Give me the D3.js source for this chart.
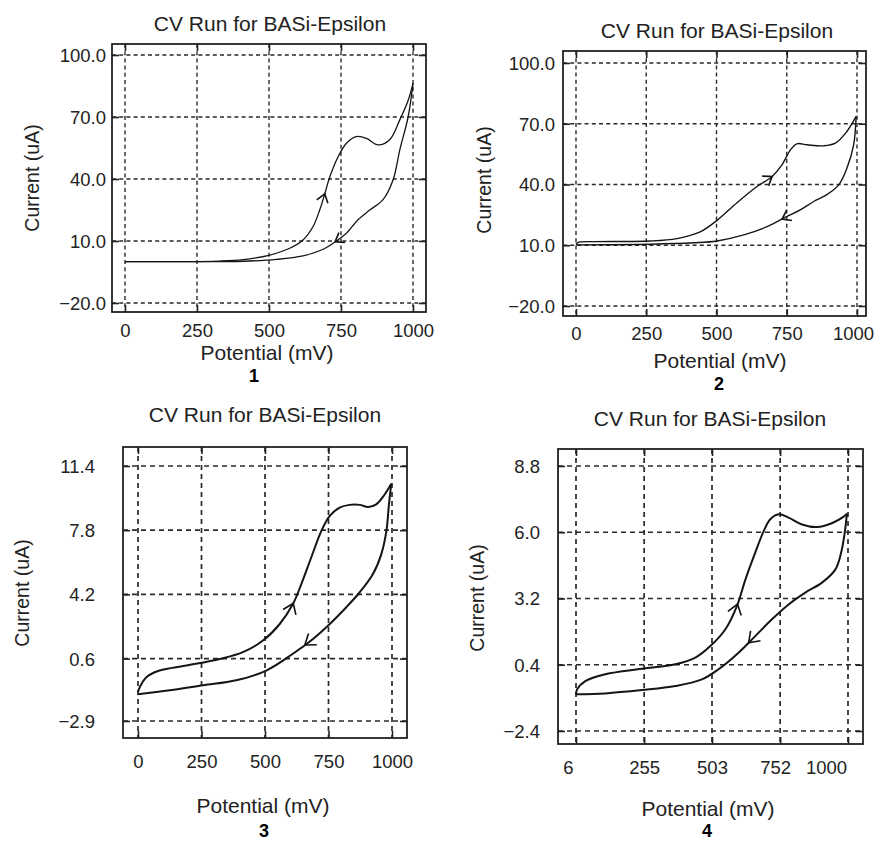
<!DOCTYPE html>
<html>
<head>
<meta charset="utf-8">
<script src="https://cdn.jsdelivr.net/npm/d3@7"></script>
<style>
  html, body { margin: 0; padding: 0; background: #fff; }
  text { font-family: "Liberation Sans", Arial, Helvetica, sans-serif; fill: #222; }
</style>
</head>
<body>
<svg id="chart" width="878" height="842"></svg>
<script>
// ---------------- DATA ----------------
const chartTitle = "CV Run for BASi-Epsilon";
const xAxisTitle = "Potential (mV)";
const yAxisTitle = "Current (uA)";
const panelNumbers = ["1", "2", "3", "4"];

// Panel 1
const p1XTicks = [0, 250, 500, 750, 1000];
const p1YTicks = [-20, 10, 40, 70, 100];
const p1FwdX = [0, 150, 330, 410, 503, 572, 618, 653, 676, 694, 711, 740, 769, 803, 838, 879, 919, 954, 983, 1000];
const p1FwdY = [0, 0, 0.3, 1, 3.2, 6.5, 10.5, 17, 25, 33, 41, 50.8, 57.3, 60.5, 59.7, 56.5, 59, 68.6, 78, 86.3];
const p1RevX = [1000, 983, 954, 931, 896, 850, 809, 769, 734, 688, 618, 526, 410, 250, 0];
const p1RevY = [86.3, 70, 54, 39.6, 30, 25, 20.3, 13.8, 10, 6, 2.8, 1.1, 0.2, 0, 0];
const p1Arrows = [[690, 33], [732, 9]];

// Panel 2
const p2XTicks = [0, 250, 500, 750, 1000];
const p2YTicks = [-20, 10, 40, 70, 100];
const p2FwdX = [0, 10, 63, 265, 359, 442, 502, 573, 644, 698, 733, 763, 786, 822, 881, 923, 964, 997];
const p2FwdY = [10.5, 11.5, 11.8, 12.1, 13.3, 16.6, 22.3, 31, 39, 44, 49.7, 57.1, 60.1, 59.6, 59.1, 60.4, 66.2, 73.6];
const p2RevX = [997, 988, 964, 935, 893, 846, 798, 751, 680, 597, 502, 419, 265, 0];
const p2RevY = [73.6, 59.6, 48, 39.8, 35, 31.6, 27.5, 24.2, 19.2, 15.1, 12.1, 11.2, 10.5, 10.2];
const p2Arrows = [[698, 44], [733, 23]];

// Panel 3
const p3XTicks = [0, 250, 500, 750, 1000];
const p3YTicks = [-2.9, 0.6, 4.2, 7.8, 11.4];
const p3FwdX = [0, 7, 33, 85, 190, 322, 413, 492, 558, 610, 643, 682, 722, 755, 794, 833, 873, 906, 938, 971, 997];
const p3FwdY = [-1.28, -1.0, -0.44, -0.07, 0.21, 0.58, 0.96, 1.61, 2.54, 3.66, 4.78, 6.27, 7.76, 8.6, 9.07, 9.22, 9.22, 9.1, 9.25, 9.8, 10.4];
const p3RevX = [997, 988, 978, 958, 925, 873, 820, 755, 689, 610, 505, 387, 256, 125, 0];
const p3RevY = [10.4, 9.25, 7.76, 6.46, 5.34, 4.32, 3.48, 2.54, 1.7, 0.87, -0.07, -0.62, -0.9, -1.18, -1.4];
const p3Arrows = [[612, 3.7], [660, 1.3]];

// Panel 4
const p4XTicks = [6, 255, 503, 752, 1000];
const p4YTicks = [-2.4, 0.4, 3.2, 6.0, 8.8];
const p4FwdX = [6, 10, 40, 113, 247, 369, 442, 497, 552, 594, 625, 661, 692, 716, 747, 783, 832, 887, 941, 984, 996];
const p4FwdY = [-0.85, -0.64, -0.29, 0.0, 0.23, 0.42, 0.7, 1.19, 1.9, 2.88, 4.0, 5.14, 6.05, 6.55, 6.76, 6.62, 6.33, 6.22, 6.38, 6.66, 6.79];
const p4RevX = [996, 988, 975, 954, 905, 844, 783, 722, 661, 600, 527, 466, 369, 247, 113, 6];
const p4RevY = [6.79, 5.98, 5.14, 4.43, 3.87, 3.45, 2.95, 2.32, 1.61, 0.91, 0.21, -0.22, -0.5, -0.67, -0.81, -0.85];
const p4Arrows = [[600, 2.95], [637, 1.33]];

// ---------------- LAYOUT ----------------
const panels = [
  { num: panelNumbers[0], xTicks: p1XTicks, yTicks: p1YTicks, fx: p1FwdX, fy: p1FwdY, rx: p1RevX, ry: p1RevY, arrows: p1Arrows,
    frame: [112, 44, 426, 312], grid: [125, 413, 303, 55], lineW: 1.3, gridW: 1.4, dash: "4,3.2", arrowLen: 10,
    titleXY: [270, 31], xtY: 19, ytPad: 6, xTitleXY: [267, 360], numXY: [254, 382], yTitleXY: [32, 178], xLabelDx: [0, 0, 0, 0, 0] },
  { num: panelNumbers[1], xTicks: p2XTicks, yTicks: p2YTicks, fx: p2FwdX, fy: p2FwdY, rx: p2RevX, ry: p2RevY, arrows: p2Arrows,
    frame: [563, 51, 866, 316], grid: [576, 857, 306, 63], lineW: 1.4, gridW: 1.4, dash: "4,3.2", arrowLen: 10,
    titleXY: [717, 38], xtY: 18, ytPad: 8, xTitleXY: [720, 368], numXY: [719, 390], yTitleXY: [484, 180], xLabelDx: [0, 0, 0, 0, -4] },
  { num: panelNumbers[2], xTicks: p3XTicks, yTicks: p3YTicks, fx: p3FwdX, fy: p3FwdY, rx: p3RevX, ry: p3RevY, arrows: p3Arrows,
    frame: [123, 447, 407, 738], grid: [138, 392, 721, 466], lineW: 2, gridW: 1.7, dash: "5,4", arrowLen: 12,
    titleXY: [265, 422], xtY: 24, ytPad: 28, xTitleXY: [263, 813], numXY: [264, 837], yTitleXY: [22, 593], xLabelDx: [0, 0, 0, 0, 0] },
  { num: panelNumbers[3], xTicks: p4XTicks, yTicks: p4YTicks, fx: p4FwdX, fy: p4FwdY, rx: p4RevX, ry: p4RevY, arrows: p4Arrows,
    frame: [558, 449, 863, 744], grid: [576, 848, 731, 466], lineW: 2, gridW: 1.7, dash: "5,4", arrowLen: 12,
    titleXY: [710, 426], xtY: 24, ytPad: 18, xTitleXY: [708, 816], numXY: [707, 837], yTitleXY: [477, 598], xLabelDx: [-8, 0, 0, -5, -22] }
];

const svg = d3.select("#chart");
const fmtY = d3.format(".1f");
const FONT = '"Liberation Sans", Arial, sans-serif';

function drawArrow(g, xs, ys, tip, x, y, len) {
  const pts = xs.map((v, i) => [x(v), y(ys[i])]);
  const t = [x(tip[0]), y(tip[1])];
  let best = null;
  for (let i = 0; i < pts.length - 1; i++) {
    const a = pts[i], b = pts[i + 1];
    const dx = b[0] - a[0], dy = b[1] - a[1];
    const L2 = dx * dx + dy * dy;
    let u = ((t[0] - a[0]) * dx + (t[1] - a[1]) * dy) / L2;
    u = Math.max(0, Math.min(1, u));
    const px = a[0] + u * dx, py = a[1] + u * dy;
    const d = (px - t[0]) ** 2 + (py - t[1]) ** 2;
    if (!best || d < best.d) best = { d, p: [px, py], dir: [dx / Math.sqrt(L2), dy / Math.sqrt(L2)] };
  }
  const ang = Math.atan2(best.dir[1], best.dir[0]);
  const spread = 0.62;
  const a1 = [best.p[0] - len * Math.cos(ang - spread), best.p[1] - len * Math.sin(ang - spread)];
  const a2 = [best.p[0] - len * Math.cos(ang + spread), best.p[1] - len * Math.sin(ang + spread)];
  g.append("path")
    .attr("d", d3.line()([a1, best.p, a2]))
    .attr("fill", "none").attr("stroke", "#111")
    .attr("stroke-width", 1.6).attr("stroke-linejoin", "miter");
}

panels.forEach(p => {
  const [fx0, fy0, fx1, fy1] = p.frame;
  const x = d3.scaleLinear().domain(d3.extent(p.xTicks)).range([p.grid[0], p.grid[1]]);
  const y = d3.scaleLinear().domain(d3.extent(p.yTicks)).range([p.grid[2], p.grid[3]]);
  const g = svg.append("g");

  // gridlines
  g.append("g").selectAll("line").data(p.xTicks).join("line")
    .attr("x1", d => x(d)).attr("x2", d => x(d)).attr("y1", fy0).attr("y2", fy1)
    .attr("stroke", "#2a2a2a").attr("stroke-width", p.gridW).attr("stroke-dasharray", p.dash);
  g.append("g").selectAll("line").data(p.yTicks).join("line")
    .attr("y1", d => y(d)).attr("y2", d => y(d)).attr("x1", fx0).attr("x2", fx1)
    .attr("stroke", "#2a2a2a").attr("stroke-width", p.gridW).attr("stroke-dasharray", p.dash);

  // axes (inward ticks)
  const tick = 7;
  const axB = g.append("g").attr("transform", `translate(0,${fy1})`)
    .call(d3.axisBottom(x).tickValues(p.xTicks).tickSizeInner(-tick).tickSizeOuter(0).tickFormat(d3.format("d")));
  const axL = g.append("g").attr("transform", `translate(${fx0},0)`)
    .call(d3.axisLeft(y).tickValues(p.yTicks).tickSizeInner(-tick).tickSizeOuter(0).tickFormat(d => fmtY(d)));
  const axT = g.append("g").attr("transform", `translate(0,${fy0})`)
    .call(d3.axisTop(x).tickValues(p.xTicks).tickSizeInner(-tick).tickSizeOuter(0).tickFormat(""));
  const axR = g.append("g").attr("transform", `translate(${fx1},0)`)
    .call(d3.axisRight(y).tickValues(p.yTicks).tickSizeInner(-tick).tickSizeOuter(0).tickFormat(""));
  [axB, axL, axT, axR].forEach(a => {
    a.select(".domain").remove();
    a.selectAll(".tick line").attr("stroke", "#222").attr("stroke-width", 1.6);
  });
  axB.selectAll(".tick text")
    .attr("y", p.xtY).attr("dy", "0.35em")
    .attr("dx", (d, i) => p.xLabelDx[i])
    .style("font-size", "18.5px").style("font-family", FONT).attr("fill", "#222");
  axL.selectAll(".tick text")
    .attr("x", -p.ytPad).attr("dy", "0.35em")
    .style("font-size", "18.5px").style("font-family", FONT).attr("fill", "#222");

  // frame
  g.append("rect").attr("x", fx0).attr("y", fy0).attr("width", fx1 - fx0).attr("height", fy1 - fy0)
    .attr("fill", "none").attr("stroke", "#222").attr("stroke-width", 1.8);

  // curves
  const line = d3.line().x(d => x(d[0])).y(d => y(d[1])).curve(d3.curveCatmullRom.alpha(0.5));
  const fwd = p.fx.map((v, i) => [v, p.fy[i]]);
  const rev = p.rx.map((v, i) => [v, p.ry[i]]);
  [fwd, rev].forEach(data => {
    g.append("path").attr("d", line(data)).attr("fill", "none")
      .attr("stroke", "#151515").attr("stroke-width", p.lineW).attr("stroke-linejoin", "round");
  });
  drawArrow(g, p.fx, p.fy, p.arrows[0], x, y, p.arrowLen);
  drawArrow(g, p.rx, p.ry, p.arrows[1], x, y, p.arrowLen);

  // texts
  g.append("text").attr("x", p.titleXY[0]).attr("y", p.titleXY[1]).attr("text-anchor", "middle")
    .style("font-size", "21px").text(chartTitle);
  g.append("text").attr("x", p.xTitleXY[0]).attr("y", p.xTitleXY[1]).attr("text-anchor", "middle")
    .style("font-size", "21px").text(xAxisTitle);
  g.append("text").attr("x", p.numXY[0]).attr("y", p.numXY[1]).attr("text-anchor", "middle")
    .style("font-size", "18px").style("font-weight", "bold").style("fill", "#000").text(p.num);
  g.append("text").attr("transform", `translate(${p.yTitleXY[0]},${p.yTitleXY[1]}) rotate(-90)`)
    .attr("text-anchor", "middle").attr("dominant-baseline", "central")
    .style("font-size", "19.5px").text(yAxisTitle);
});
</script>
</body>
</html>
